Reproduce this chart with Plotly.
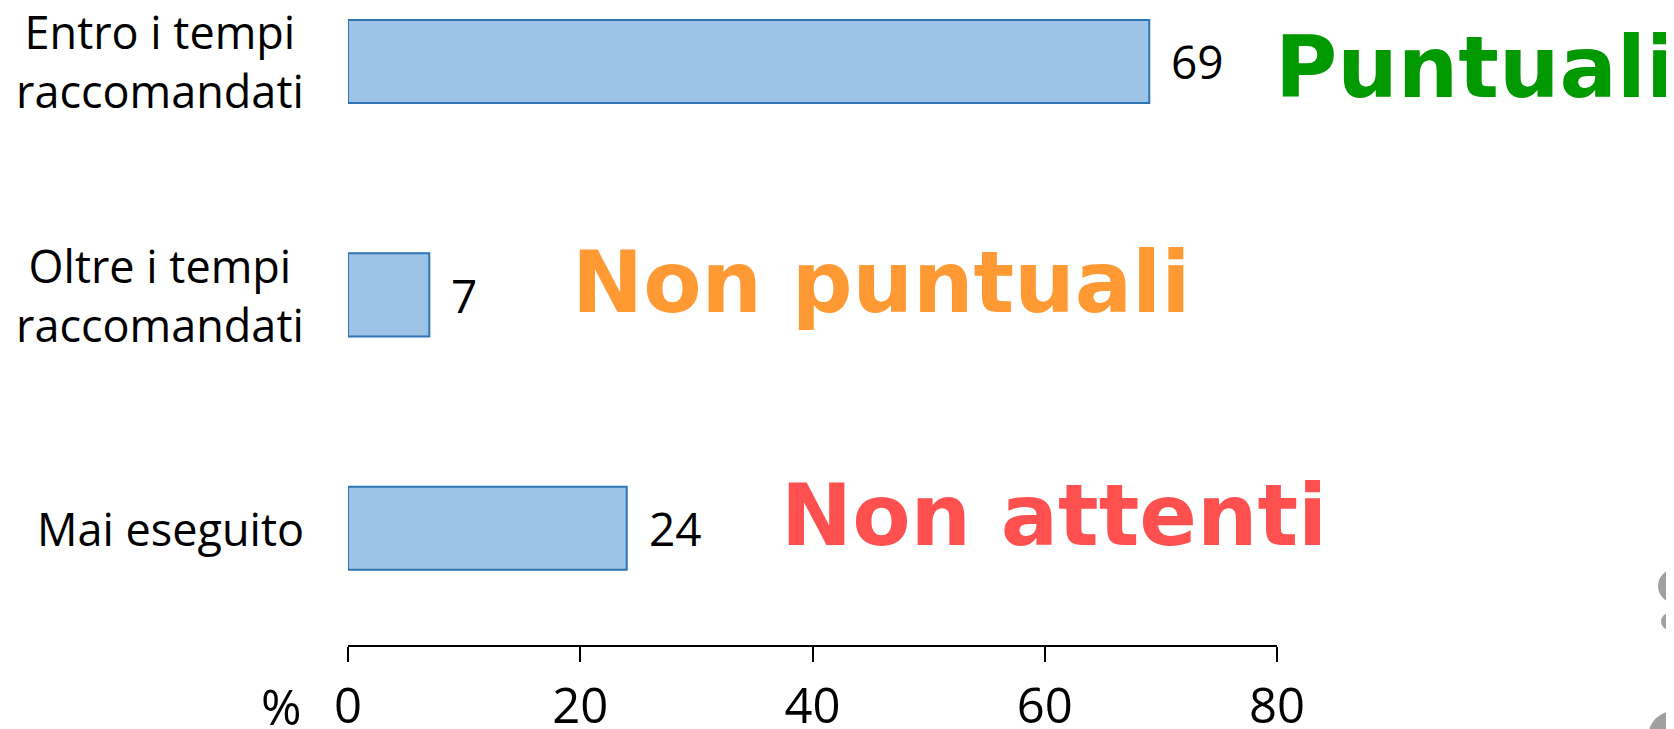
import plotly.graph_objects as go

categories = ["Entro i tempi<br>raccomandati", "Oltre i tempi<br>raccomandati", "Mai eseguito"]
values = [69, 7, 24]
tick_vals = [0, 20, 40, 60, 80]
tick_text = ["0", "20", "40", "60", "80"]
group_labels = ["Puntuali", "Non puntuali", "Non attenti"]
group_colors = ["#009900", "#FF9933", "#FF5050"]
group_xpos = [0.9955, 0.2385, 0.4635]   # paper x of label left edge
group_yshift = [-6, 12, 13]

BASE_FONT = "Open Sans"
W, H = 1674, 729
ML, MR, MT, MB = 340, 405, 0, 92
PW, PH = W - ML - MR, H - MT - MB


def px(fx):
    return (fx - ML) / PW


def py(fy):
    return (H - MB - fy) / PH


fig = go.Figure()
fig.add_trace(go.Bar(
    x=values, y=list(range(len(categories))), orientation="h",
    marker=dict(color="#9DC3E6", line=dict(color="#2E75B6", width=2)),
    hoverinfo="skip", showlegend=False,
))

ann = []
for i, (c, v) in enumerate(zip(categories, values)):
    ann.append(dict(x=0, xref="paper", y=i, yref="y", text=c, showarrow=False,
                    xanchor="right", yanchor="middle", align="center", xshift=-42,
                    font=dict(family=BASE_FONT, size=45, color="black")))
    ann.append(dict(x=v, xref="x", y=i, yref="y", text=str(v), showarrow=False,
                    xanchor="left", yanchor="middle", xshift=20,
                    font=dict(family=BASE_FONT, size=46, color="black")))
for i, (t, col, gx, ys) in enumerate(zip(group_labels, group_colors, group_xpos, group_yshift)):
    ann.append(dict(x=gx, xref="paper", y=i, yref="y", text="<b>" + t + "</b>", showarrow=False,
                    xanchor="left", yanchor="middle", yshift=ys,
                    font=dict(family="DejaVu Sans", size=85, color=col)))
ann.append(dict(x=0, xref="paper", y=0, yref="paper", text="%", showarrow=False,
                xanchor="center", yanchor="middle", xshift=-67, yshift=-61,
                font=dict(family=BASE_FONT, size=49, color="black")))

blobs = [(1650, 560, 1690, 596), (1653, 603, 1683, 624), (1640, 703, 1692, 755)]
shapes = [dict(type="circle", xref="paper", yref="paper",
               x0=px(a), x1=px(c), y0=py(d), y1=py(b),
               fillcolor="#a0a0a0", line=dict(width=0), layer="above")
          for a, b, c, d in blobs]

fig.update_layout(
    width=W, height=H,
    margin=dict(l=ML, r=MR, t=MT, b=MB, pad=0),
    paper_bgcolor="white", plot_bgcolor="white",
    bargap=0.644,
    annotations=ann,
    shapes=shapes,
    xaxis=dict(range=[0, 80], tickvals=tick_vals, ticktext=tick_text,
               showline=True, linecolor="black", linewidth=2,
               ticks="outside", ticklen=15, tickwidth=2, tickcolor="black",
               showgrid=False, zeroline=False, automargin=False,
               ticklabelstandoff=2,
               tickfont=dict(family=BASE_FONT, size=49, color="black")),
    yaxis=dict(range=[2.5, -0.229], showticklabels=False, showgrid=False,
               zeroline=False, showline=False, ticks="", automargin=False),
)

fig.write_html("out.html")
